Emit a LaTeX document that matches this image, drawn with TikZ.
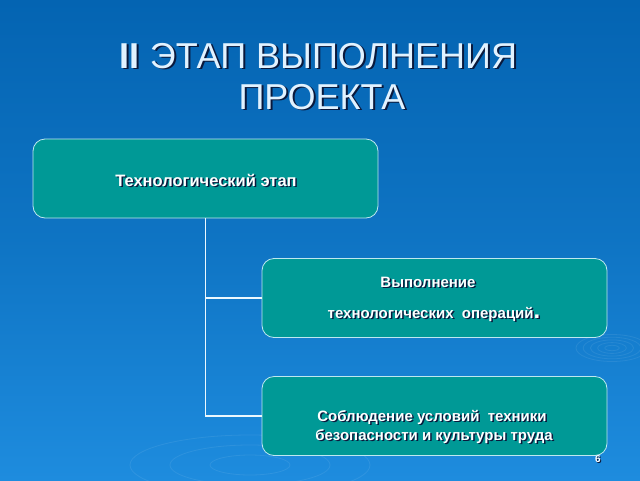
\documentclass[tikz,border=0pt]{standalone}
\usepackage{fontspec}
\setmainfont{Liberation Sans}
\definecolor{bgtop}{RGB}{4,100,178}
\definecolor{bgbot}{RGB}{30,140,222}
\definecolor{teal}{RGB}{0,153,150}
\definecolor{edge}{RGB}{190,232,240}
\definecolor{titlec}{RGB}{225,242,255}
\definecolor{shade}{RGB}{10,25,60}
\tikzset{
  box/.style={draw=edge, line width=0.8pt, fill=teal, rounded corners=12pt,
    minimum width=345pt, minimum height=79pt, inner sep=0pt},
  btxt/.style={text=white, inner sep=0pt, anchor=base},
  bsh/.style={text=shade, inner sep=0pt, anchor=base},
  bigf/.style={font=\bfseries\fontsize{16.5}{18}\selectfont},
  smf/.style={font=\bfseries\fontsize{15}{17}\selectfont},
  ttxt/.style={text=titlec, font=\fontsize{36}{40}\selectfont, inner sep=0pt, anchor=base},
  tsh/.style={text=shade, font=\fontsize{36}{40}\selectfont, inner sep=0pt, anchor=base},
  conn/.style={draw=white!92!cyan, line width=1.6pt},
  ripple/.style={draw=white, opacity=0.08, line width=0.8pt}
}
\begin{document}
\begin{tikzpicture}[x=1pt,y=-1pt]
\shade[top color=bgtop, bottom color=bgbot, middle color=bgtop!60!bgbot] (0,0) rectangle (640,480);
\useasboundingbox (0,0) rectangle (640,480);
% faint ripples
\foreach \r in {6,12,18,24,30}{
  \draw[ripple] (612,348) ellipse ({\r*1.2} and {\r*0.45});
}
\foreach \r in {20,40,60}{
  \draw[ripple] (250,465) ellipse ({\r*2} and {\r*0.5});
}
% title
\node[tsh] (t1s) at (320.5,69.5) {\textbf{II} ЭТАП ВЫПОЛНЕНИЯ};
\node[ttxt] (t1) at (318.5,68) {\textbf{II} ЭТАП ВЫПОЛНЕНИЯ};
\node[tsh] (t2s) at (324,110.5) {ПРОЕКТА};
\node[ttxt] (t2) at (322,109) {ПРОЕКТА};
% boxes
\node[box] (b1) at (205.5,178.5) {};
\node[box] (b2) at (434.5,298) {};
\node[box] (b3) at (434.5,416) {};
% connectors
\draw[conn] (b1.south) |- (b2.west);
\draw[conn] (b1.south) |- (b3.west);
% box texts
\node[bsh, bigf] (x1s) at (207.5,187.5) {Технологический этап};
\node[btxt, bigf] (x1) at (206,186) {Технологический этап};
\node[bsh, smf] (x2s) at (429.5,288.5) {Выполнение};
\node[btxt, smf] (x2) at (428,287) {Выполнение};
\node[bsh, smf] (x3s) at (435.5,319.5) {технологических\ \ операций{\fontsize{24}{24}\selectfont .}};
\node[btxt, smf] (x3) at (434,318) {технологических\ \ операций{\fontsize{24}{24}\selectfont .}};
\node[bsh, smf] (x4s) at (433.5,422.5) {Соблюдение условий\ \ техники};
\node[btxt, smf] (x4) at (432,421) {Соблюдение условий\ \ техники};
\node[bsh, smf] (x5s) at (435.5,441.5) {безопасности и культуры труда};
\node[btxt, smf] (x5) at (434,440) {безопасности и культуры труда};
% page number
\node[text=shade, font=\bfseries\fontsize{10}{12}\selectfont, inner sep=0pt] (pgs) at (599,460.5) {6};
\node[text=white, font=\bfseries\fontsize{10}{12}\selectfont, inner sep=0pt] (pg) at (598,459.5) {6};
\end{tikzpicture}
\end{document}
